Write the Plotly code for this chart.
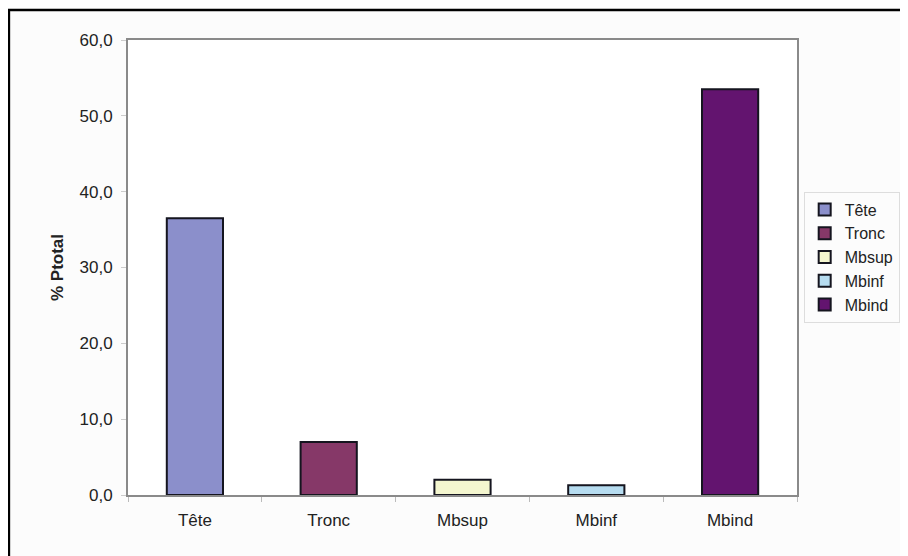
import plotly.graph_objs as go

categories = ["Tête", "Tronc", "Mbsup", "Mbinf", "Mbind"]
values = [36.5, 7.0, 2.0, 1.3, 53.5]
colors = ["#8b8fcb", "#863868", "#f4f6cf", "#b6dcf0", "#63146f"]
y_ticks = [0, 10, 20, 30, 40, 50, 60]

fig = go.Figure()
for cat, val, col in zip(categories, values, colors):
    fig.add_trace(go.Bar(x=[cat], y=[val], name=cat, width=0.42,
                         marker=dict(color=col, line=dict(color="#15151f", width=2))))

# page body has an 8px margin, so the figure is a bit smaller than the window
fig.update_layout(
    width=900, height=548,
    margin=dict(l=120, r=111, t=32, b=61, autoexpand=False),
    paper_bgcolor="#fcfcfc", plot_bgcolor="#ffffff",
    barmode="relative",
    separators=", ",
    font=dict(family="Liberation Sans, Arial", size=17, color="#222222"),
    legend=dict(x=1.01, y=0.667, xanchor="left", yanchor="top",
                bordercolor="#dddddd", borderwidth=1, bgcolor="#fcfcfc",
                font=dict(size=16), itemwidth=30, tracegroupgap=0),
    showlegend=True,
)
fig.update_xaxes(categoryorder="array", categoryarray=categories,
                 showline=True, linecolor="#8a8a8a", linewidth=2, mirror=True,
                 ticks="outside", tickson="boundaries", ticklen=5, tickcolor="#bbbbbb",
                 ticklabelstandoff=9,
                 showgrid=False, tickfont=dict(size=17))
fig.update_yaxes(range=[0, 60], tickvals=y_ticks, tickformat=".1f",
                 showline=True, linecolor="#8a8a8a", linewidth=2, mirror=True,
                 ticks="outside", ticklen=5, tickcolor="#cccccc", showgrid=False,
                 ticklabelstandoff=5,
                 zeroline=False, tickfont=dict(size=17),
                 title=dict(text="<b>% Ptotal</b>", font=dict(size=17), standoff=12))

# outer frame of the original chart
fig.add_shape(type="rect", xref="paper", yref="paper",
              x0=-0.178, x1=1.3, y0=-0.3, y1=1.066,
              line=dict(color="#000000", width=2.5), layer="below")

fig.write_html("out.html")
